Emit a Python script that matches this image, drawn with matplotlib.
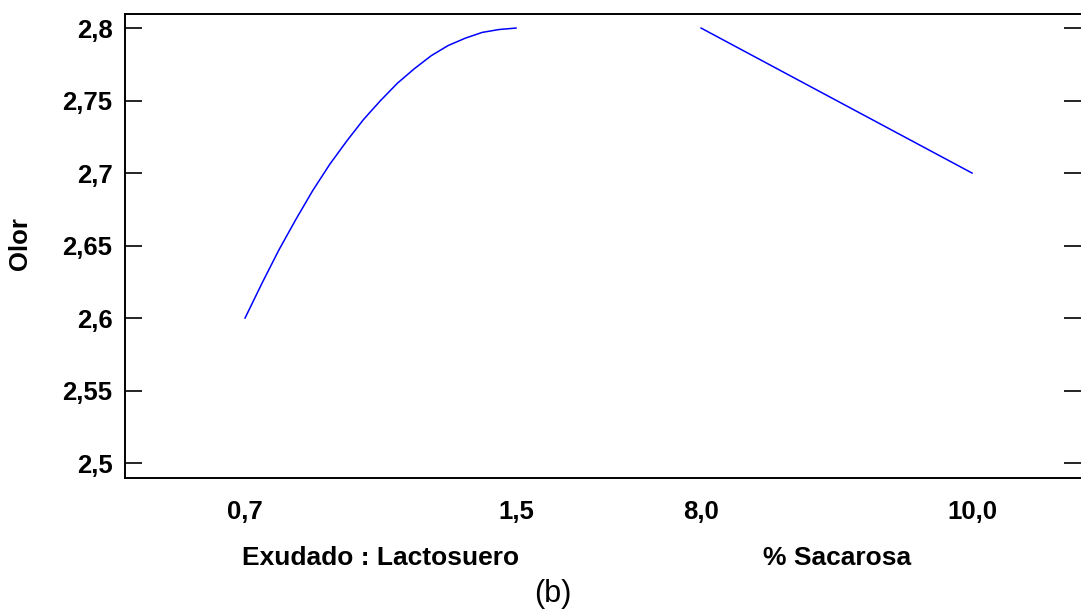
import numpy as np
import matplotlib
matplotlib.use("Agg")
import matplotlib.pyplot as plt
import matplotlib.transforms as mtransforms

plt.rcParams['font.family'] = ['Liberation Sans', 'DejaVu Sans']

# Efectos principales para Olor
exudado = [0.70, 0.75, 0.80, 0.85, 0.90, 0.95, 1.00, 1.05, 1.10,
           1.15, 1.20, 1.25, 1.30, 1.35, 1.40, 1.45, 1.50]
olor_exudado = [2.600, 2.624, 2.647, 2.668, 2.688, 2.706, 2.722, 2.737, 2.750,
                2.762, 2.772, 2.781, 2.788, 2.793, 2.797, 2.799, 2.800]

sacarosa = [8.0, 8.5, 9.0, 9.5, 10.0]
olor_sacarosa = [2.800, 2.775, 2.750, 2.725, 2.700]

factores = ["Exudado : Lactosuero", "% Sacarosa"]
niveles = [(0.7, 1.5), (8.0, 10.0)]
etiquetas_niveles = [("0,7", "1,5"), ("8,0", "10,0")]
yticks = [2.5, 2.55, 2.6, 2.65, 2.7, 2.75, 2.8]
yticklabels = ["2,5", "2,55", "2,6", "2,65", "2,7", "2,75", "2,8"]

# cada factor ocupa un tramo de ancho 1 en el eje x
inicio_tramo = [0.0, 1.683]


def a_posicion(valores, i):
    lo, hi = niveles[i]
    return inicio_tramo[i] + (np.asarray(valores) - lo) / (hi - lo)


fig = plt.figure(figsize=(10.81, 6.11), dpi=100)
ax = fig.add_axes([125 / 1081, 133 / 611, 956 / 1081, 464 / 611])

ax.plot(a_posicion(exudado, 0), olor_exudado, color='#0000ff', lw=1.1)
ax.plot(a_posicion(sacarosa, 1), olor_sacarosa, color='#0000ff', lw=1.1)

ax.set_xlim(-0.443, 3.085)
ax.set_ylim(2.4897, 2.8097)

ax.set_yticks(yticks)
ax.set_yticklabels(yticklabels, fontsize=18.5, fontweight='bold')
ax.tick_params(axis='y', direction='in', length=12, width=1.2,
               left=True, right=True, pad=9)

xt, xl = [], []
for i in range(2):
    xt += list(a_posicion(niveles[i], i))
    xl += list(etiquetas_niveles[i])
ax.set_xticks(xt)
ax.set_xticklabels(xl, fontsize=18.5, fontweight='bold')
ax.tick_params(axis='x', length=0, pad=16)

for s in ['left', 'bottom', 'top']:
    ax.spines[s].set_linewidth(1.4)
ax.spines['right'].set_visible(False)

trans = mtransforms.blended_transform_factory(ax.transData, ax.transAxes)
for i, nombre in enumerate(factores):
    centro = inicio_tramo[i] + 0.5
    ax.text(centro, -0.1724, nombre, transform=trans, ha='center', va='center',
            fontsize=19, fontweight='bold')

fig.text(20 / 1081, 1 - 244 / 611, "Olor", rotation=90, ha='center', va='center',
         fontsize=18.5, fontweight='bold')
fig.text(553 / 1081, 1 - 594 / 611, "(b)", ha='center', va='center', fontsize=22)

fig.savefig("out.png", dpi=100)
